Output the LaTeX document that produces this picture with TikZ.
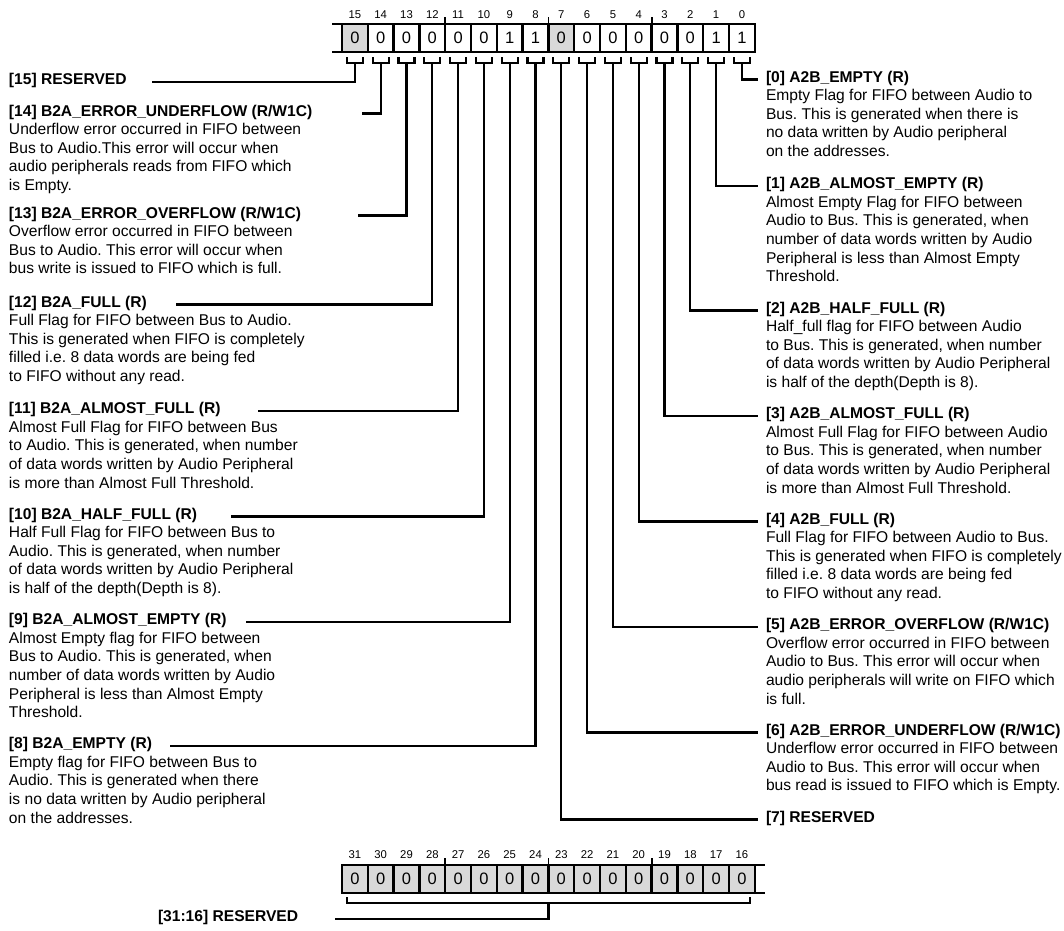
\documentclass[tikz,border=0pt]{standalone}
\usepackage{fontspec}
\setmainfont{Liberation Sans}
\usepackage{tikz}
\colorlet{rsv}{black!15}
\frenchspacing

\begin{document}
\begin{tikzpicture}[x=1pt, y=-1pt, line width=2.3pt,
	every node/.style={font=\fontsize{15.6}{18.6}\selectfont, inner sep=0pt, outer sep=0pt},
	bitbox/.style={draw, line width=2.5pt, minimum width=25.8pt, minimum height=28pt, font=\fontsize{16.5}{18.6}\selectfont},
	bitnum/.style={font=\fontsize{11.3}{12}\selectfont},
	title/.style={font=\fontsize{15.6}{18.6}\selectfont\bfseries, anchor=mid west},
	desc/.style={align=left, anchor=north west}]
	\useasboundingbox (0,0) rectangle (1064,930);
	\foreach \bit/\val/\fil in {15/0/rsv,14/0/white,13/0/white,12/0/white,11/0/white,10/0/white,9/1/white,8/1/white,7/0/rsv,6/0/white,5/0/white,4/0/white,3/0/white,2/0/white,1/1/white,0/1/white}{
		\pgfmathsetmacro{\cx}{354.9+25.8*(15-\bit)}
		\node[bitbox, fill=\fil] (b\bit) at (\cx,38) {\val};
		\node[bitnum] (n\bit) at (\cx,15) {\bit};
		\draw ([shift={(-8,5)}]b\bit.south) -- ++(0,6) -- ++(16,0) -- ++(0,-6);
		\coordinate (u\bit) at ([yshift=-11pt]b\bit.south);
	}
	\draw[line width=2.5pt] (332,24) -- (b15.north west);
	\draw[line width=2.5pt] (332,52) -- (b15.south west);
	\draw[line width=1.8pt] (b12.north east) -- ++(0,-7);
	\draw[line width=1.8pt] (b8.north east) -- ++(0,-7);
	\draw[line width=1.8pt] (b4.north east) -- ++(0,-7);

	\node[title] (t15) at (9,82) {[15] RESERVED};
	\coordinate (l15) at (152,82);
	\draw (u15) |- (l15);
	\node[title] (t14) at (9,113.5) {[14] B2A\_ERROR\_UNDERFLOW (R/W1C)};
	\node[desc] (d14) at ([yshift=-5.6pt]t14.base west) {\strut Underflow error occurred in FIFO between\\Bus to Audio.This error will occur when\\audio peripherals reads from FIFO which\\is Empty.};
	\coordinate (l14) at (362,113.5);
	\draw (u14) |- (l14);
	\node[title] (t13) at (9,215.5) {[13] B2A\_ERROR\_OVERFLOW (R/W1C)};
	\node[desc] (d13) at ([yshift=-5.6pt]t13.base west) {\strut Overflow error occurred in FIFO between\\Bus to Audio. This error will occur when\\bus write is issued to FIFO which is full.};
	\coordinate (l13) at (358,215.5);
	\draw (u13) |- (l13);
	\node[title] (t12) at (9,304.5) {[12] B2A\_FULL (R)};
	\node[desc] (d12) at ([yshift=-5.6pt]t12.base west) {\strut Full Flag for FIFO between Bus to Audio.\\This is generated when FIFO is completely\\filled i.e. 8 data words are being fed\\to FIFO without any read.};
	\coordinate (l12) at (176,304.5);
	\draw (u12) |- (l12);
	\node[title] (t11) at (9,411) {[11] B2A\_ALMOST\_FULL (R)};
	\node[desc] (d11) at ([yshift=-5.6pt]t11.base west) {\strut Almost Full Flag for FIFO between Bus\\to Audio. This is generated, when number\\of data words written by Audio Peripheral\\is more than Almost Full Threshold.};
	\coordinate (l11) at (258,411);
	\draw (u11) |- (l11);
	\node[title] (t10) at (9,516.5) {[10] B2A\_HALF\_FULL (R)};
	\node[desc] (d10) at ([yshift=-5.6pt]t10.base west) {\strut Half Full Flag for FIFO between Bus to\\Audio. This is generated, when number\\of data words written by Audio Peripheral\\is half of the depth(Depth is 8).};
	\coordinate (l10) at (231,516.5);
	\draw (u10) |- (l10);
	\node[title] (t9) at (9,622) {[9] B2A\_ALMOST\_EMPTY (R)};
	\node[desc] (d9) at ([yshift=-5.6pt]t9.base west) {\strut Almost Empty flag for FIFO between\\Bus to Audio. This is generated, when\\number of data words written by Audio\\Peripheral is less than Almost Empty\\Threshold.};
	\coordinate (l9) at (246,622);
	\draw (u9) |- (l9);
	\node[title] (t8) at (9,746) {[8] B2A\_EMPTY (R)};
	\node[desc] (d8) at ([yshift=-5.6pt]t8.base west) {\strut Empty flag for FIFO between Bus to\\Audio. This is generated when there\\is no data written by Audio peripheral\\on the addresses.};
	\coordinate (l8) at (170,746);
	\draw (u8) |- (l8);

	\node[title] (t0) at (766,79.5) {[0] A2B\_EMPTY (R)};
	\node[desc] (d0) at ([yshift=-5.6pt]t0.base west) {\strut Empty Flag for FIFO between Audio to\\Bus. This is generated when there is\\no data written by Audio peripheral\\on the addresses.};
	\draw[shorten >=8pt] (u0) |- (t0.mid west);
	\node[title] (t1) at (766,186) {[1] A2B\_ALMOST\_EMPTY (R)};
	\node[desc] (d1) at ([yshift=-5.6pt]t1.base west) {\strut Almost Empty Flag for FIFO between\\Audio to Bus. This is generated, when\\number of data words written by Audio\\Peripheral is less than Almost Empty\\Threshold.};
	\draw[shorten >=8pt] (u1) |- (t1.mid west);
	\node[title] (t2) at (766,310.5) {[2] A2B\_HALF\_FULL (R)};
	\node[desc] (d2) at ([yshift=-5.6pt]t2.base west) {\strut Half\_full flag for FIFO between Audio\\to Bus. This is generated, when number\\of data words written by Audio Peripheral\\is half of the depth(Depth is 8).};
	\draw[shorten >=8pt] (u2) |- (t2.mid west);
	\node[title] (t3) at (766,416) {[3] A2B\_ALMOST\_FULL (R)};
	\node[desc] (d3) at ([yshift=-5.6pt]t3.base west) {\strut Almost Full Flag for FIFO between Audio\\to Bus. This is generated, when number\\of data words written by Audio Peripheral\\is more than Almost Full Threshold.};
	\draw[shorten >=8pt] (u3) |- (t3.mid west);
	\node[title] (t4) at (766,521.5) {[4] A2B\_FULL (R)};
	\node[desc] (d4) at ([yshift=-5.6pt]t4.base west) {\strut Full Flag for FIFO between Audio to Bus.\\This is generated when FIFO is completely\\filled i.e. 8 data words are being fed\\to FIFO without any read.};
	\draw[shorten >=8pt] (u4) |- (t4.mid west);
	\node[title] (t5) at (766,627) {[5] A2B\_ERROR\_OVERFLOW (R/W1C)};
	\node[desc] (d5) at ([yshift=-5.6pt]t5.base west) {\strut Overflow error occurred in FIFO between\\Audio to Bus. This error will occur when\\audio peripherals will write on FIFO which\\is full.};
	\draw[shorten >=8pt] (u5) |- (t5.mid west);
	\node[title] (t6) at (766,732.5) {[6] A2B\_ERROR\_UNDERFLOW (R/W1C)};
	\node[desc] (d6) at ([yshift=-5.6pt]t6.base west) {\strut Underflow error occurred in FIFO between\\Audio to Bus. This error will occur when\\bus read is issued to FIFO which is Empty.};
	\draw[shorten >=8pt] (u6) |- (t6.mid west);
	\node[title] (t7) at (766,819.5) {[7] RESERVED};
	\draw[shorten >=8pt] (u7) |- (t7.mid west);

	\foreach \bit in {31,...,16}{
		\pgfmathsetmacro{\cx}{354.9+25.8*(31-\bit)}
		\node[bitbox, fill=rsv] (b\bit) at (\cx,879) {0};
		\node[bitnum] (n\bit) at (\cx,855) {\bit};
	}
	\draw[line width=2.5pt] (b16.north east) -- ++(10,0);
	\draw[line width=2.5pt] (b16.south east) -- ++(10,0);
	\draw[line width=1.8pt] (b28.north east) -- ++(0,-7);
	\draw[line width=1.8pt] (b24.north east) -- ++(0,-7);
	\draw[line width=1.8pt] (b20.north east) -- ++(0,-7);
	\draw ([shift={(-8,4)}]b31.south) -- ++(0,6) -| ([shift={(8,4)}]b16.south);
	\coordinate (u31) at ([yshift=-10pt]b24.south east);
	\node[title] (t31) at (158,919) {[31:16] RESERVED};
	\coordinate (l31) at (335,919);
	\draw (u31) |- (l31);
\end{tikzpicture}
\end{document}
